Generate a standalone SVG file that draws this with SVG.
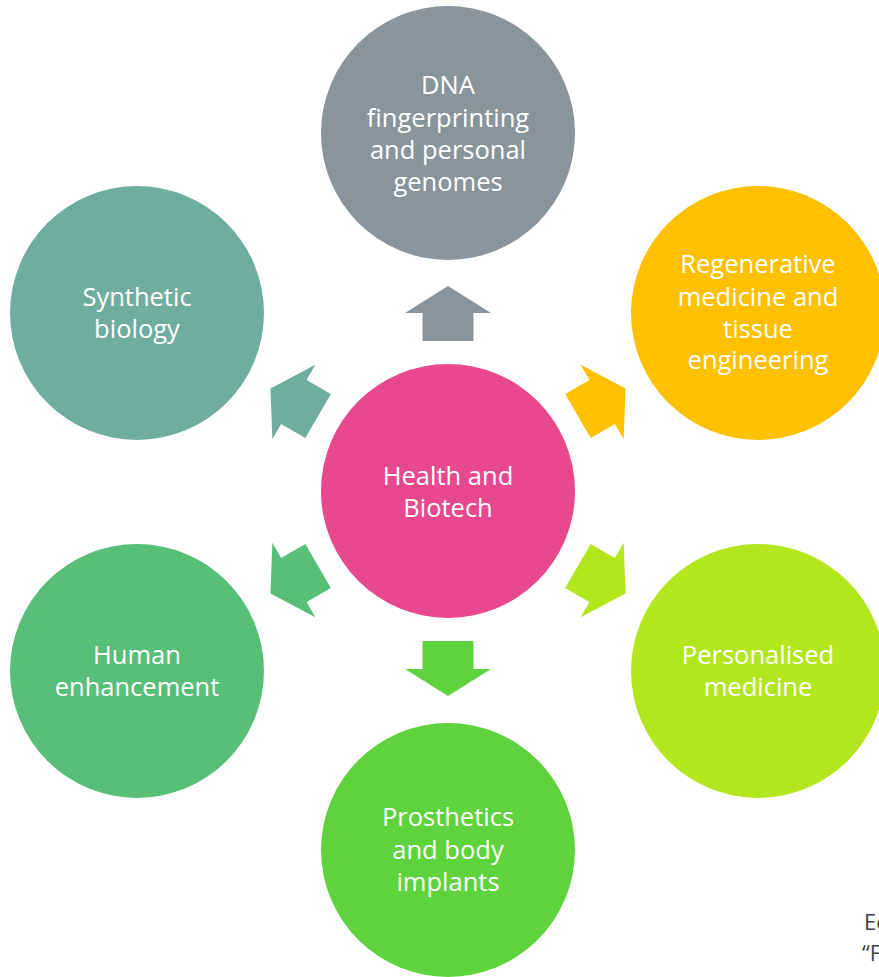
<svg xmlns="http://www.w3.org/2000/svg" width="879" height="977" viewBox="0 0 879 977">
<style>
text{font-family:"Open Sans","Noto Sans","DejaVu Sans",sans-serif;font-size:25.5px;fill:#ffffff;text-anchor:middle}
.note{fill:#404040;text-anchor:start;font-size:22px}
</style>
<defs>
<polygon id="arr" points="0,-205 43,-178 25.5,-178 25.5,-150 -25.5,-150 -25.5,-178 -43,-178"/>
</defs>
<rect width="879" height="977" fill="#ffffff"/>
<g id="connectors">
<use href="#arr" transform="translate(448,491)" fill="#8A959B"/>
<use href="#arr" transform="translate(448,491) rotate(60)" fill="#FFC000"/>
<use href="#arr" transform="translate(448,491) rotate(120)" fill="#B4E61E"/>
<use href="#arr" transform="translate(448,491) rotate(180)" fill="#5ED33E"/>
<use href="#arr" transform="translate(448,491) rotate(240)" fill="#57BF78"/>
<use href="#arr" transform="translate(448,491) rotate(300)" fill="#6FAE9F"/>
</g>
<g id="center">
<circle cx="448" cy="491" r="127" fill="#E8488E"/>
<text x="448" y="485">Health and</text>
<text x="448" y="517">Biotech</text>
</g>
<g id="dna">
<circle cx="448" cy="133" r="127" fill="#8A959B"/>
<text x="448" y="94">DNA</text>
<text x="448" y="127">fingerprinting</text>
<text x="448" y="159">and personal</text>
<text x="448" y="191">genomes</text>
</g>
<g id="regen">
<circle cx="758" cy="313" r="127" fill="#FFC000"/>
<text x="758" y="273">Regenerative</text>
<text x="758" y="306">medicine and</text>
<text x="758" y="338">tissue</text>
<text x="758" y="369">engineering</text>
</g>
<g id="personal">
<circle cx="758" cy="671" r="127" fill="#B4E61E"/>
<text x="758" y="664">Personalised</text>
<text x="758" y="696">medicine</text>
</g>
<g id="prosthetics">
<circle cx="448" cy="850" r="127" fill="#5ED33E"/>
<text x="448" y="826">Prosthetics</text>
<text x="448" y="859">and body</text>
<text x="448" y="891">implants</text>
</g>
<g id="human">
<circle cx="137" cy="671" r="127" fill="#57BF78"/>
<text x="137" y="664">Human</text>
<text x="137" y="696">enhancement</text>
</g>
<g id="synthetic">
<circle cx="137" cy="313" r="127" fill="#6FAE9F"/>
<text x="137" y="306">Synthetic</text>
<text x="137" y="338">biology</text>
</g>
<text class="note" x="864" y="930">Ec</text>
<text class="note" x="862" y="961">“F</text>
</svg>
